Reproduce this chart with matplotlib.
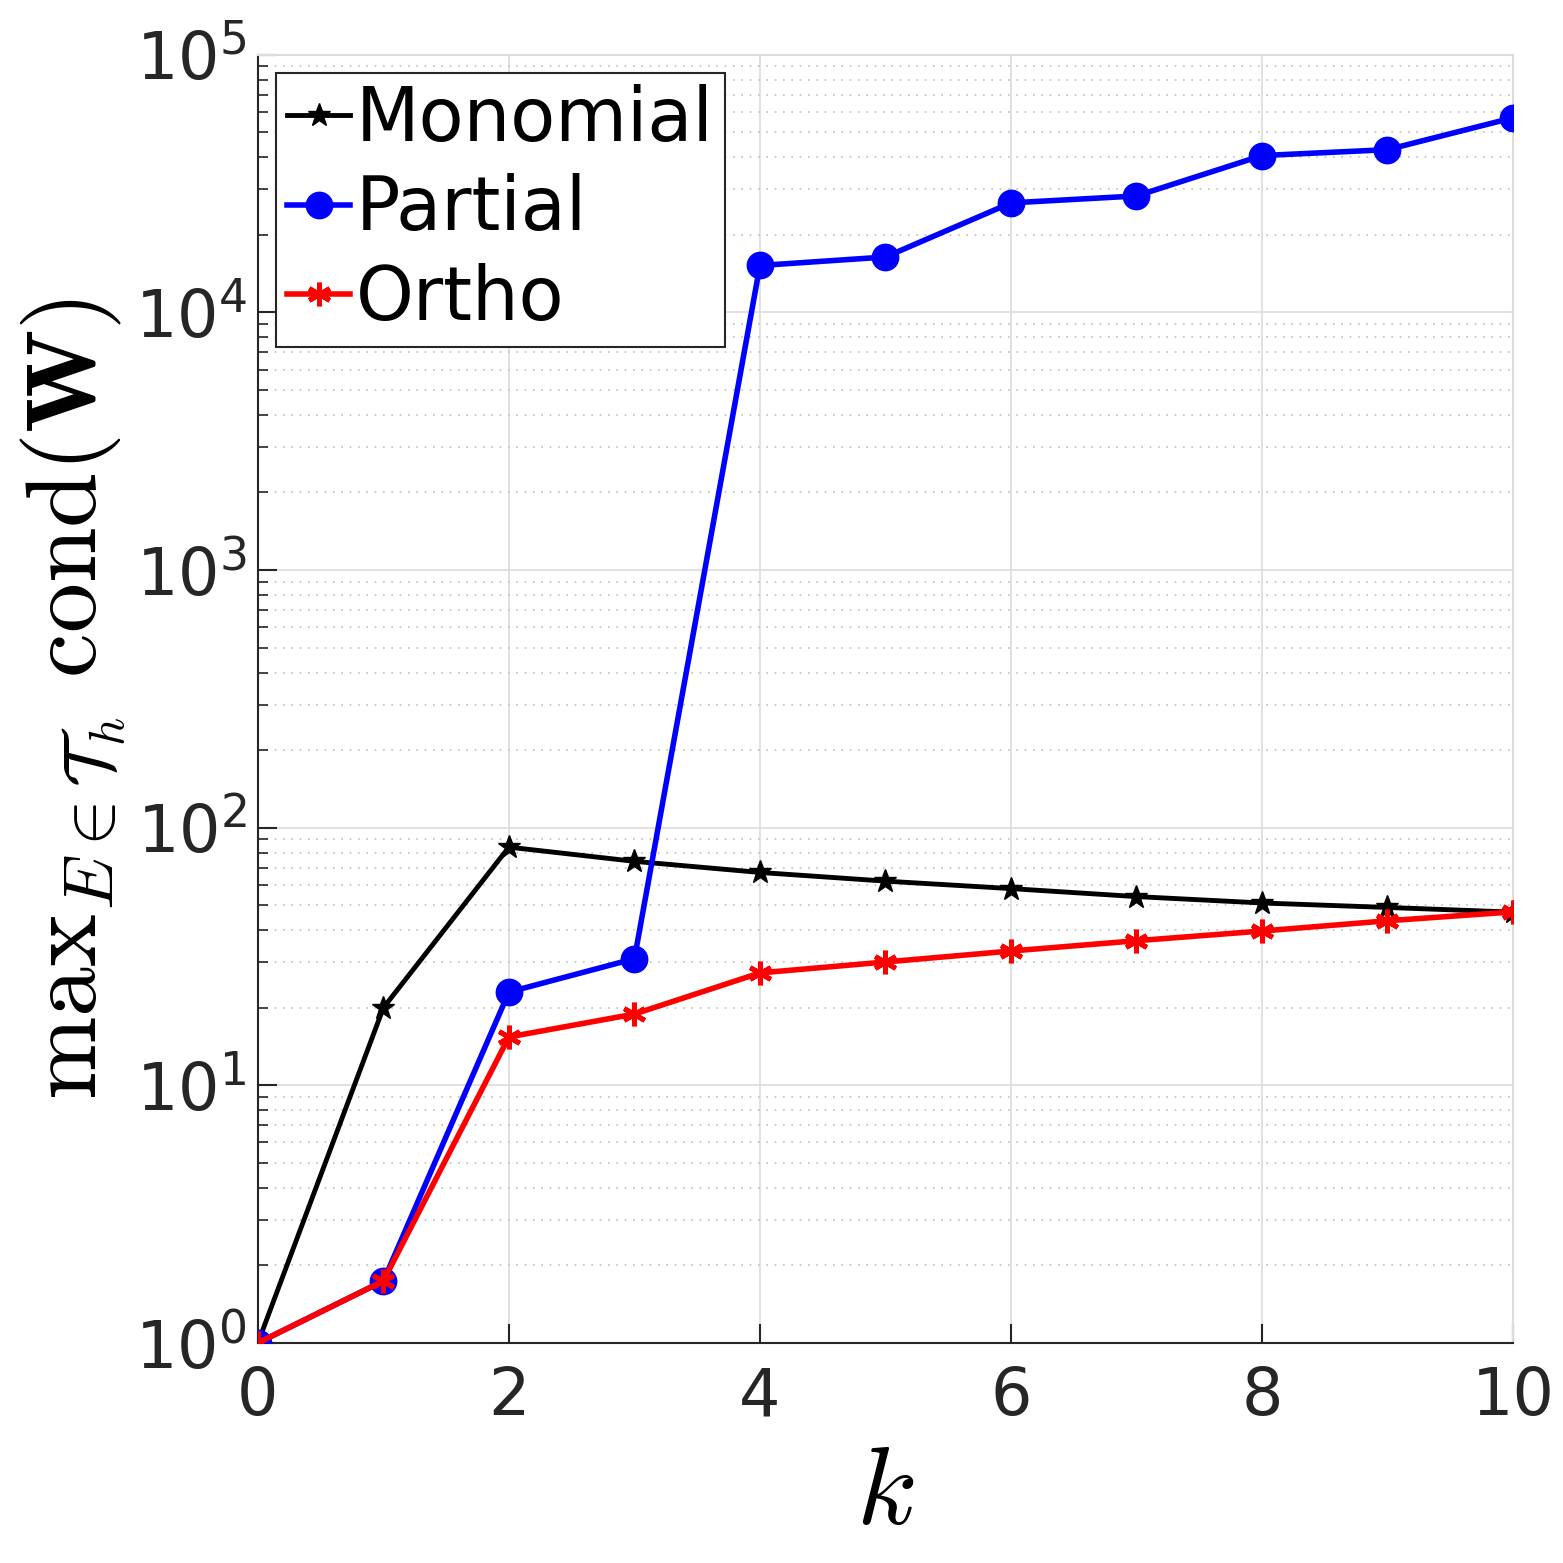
import matplotlib
matplotlib.use("Agg")
import matplotlib.pyplot as plt
from matplotlib.ticker import LogLocator, NullFormatter, FixedLocator

plt.rcParams['mathtext.fontset'] = 'cm'
plt.rcParams['font.family'] = ['DejaVu Sans']

k = [0, 1, 2, 3, 4, 5, 6, 7, 8, 9, 10]
monomial = [1.0, 20.0, 84.0, 74.0, 67.0, 62.0, 58.0, 54.0, 51.0, 49.0, 47.0]
partial = [1.0, 1.74, 23.0, 31.0, 15200.0, 16400.0, 26600.0, 28300.0, 40600.0, 42800.0, 56900.0]
ortho = [1.0, 1.74, 15.4, 18.9, 27.3, 30.1, 33.2, 36.4, 39.7, 43.5, 47.1]
xticks = [0, 2, 4, 6, 8, 10]
yticks = [1e0, 1e1, 1e2, 1e3, 1e4, 1e5]

fig = plt.figure(figsize=(15.63, 15.63), dpi=100)
ax = fig.add_axes([0.165, 0.1408, 0.803, 0.8242])

ax.plot(k, monomial, color='black', lw=3.5, marker='*', ms=17, label='Monomial', zorder=3)
ax.plot(k, partial, color='#0000ff', lw=4, marker='o', ms=19, label='Partial', zorder=4)
ax.plot(k, ortho, color='#ff0000', lw=4, marker=(6, 2, 0), ms=17, mew=3.5, label='Ortho', zorder=5)

ax.set_yscale('log')
ax.set_xlim(0, 10)
ax.set_ylim(1, 1e5)
ax.xaxis.set_major_locator(FixedLocator(xticks))
ax.yaxis.set_major_locator(FixedLocator(yticks))
ax.yaxis.set_minor_locator(LogLocator(base=10, subs=range(2, 10)))
ax.yaxis.set_minor_formatter(NullFormatter())

ax.grid(True, which='major', color='#dcdcdc', lw=1.2, ls='-')
ax.grid(True, which='minor', axis='y', color='#c0c0c0', lw=1.2, ls=(0, (1, 4)))
ax.set_axisbelow(True)

for s in ['top', 'right']:
    ax.spines[s].set_color('#dcdcdc')
    ax.spines[s].set_linewidth(1.5)
for s in ['left', 'bottom']:
    ax.spines[s].set_color('#262626')
    ax.spines[s].set_linewidth(1.5)

ax.tick_params(which='both', direction='in', top=False, right=False, colors='#262626')
ax.tick_params(which='major', length=14, width=1.5, labelsize=47)
ax.tick_params(axis='x', which='major', pad=16)
ax.tick_params(axis='y', which='major', pad=8)
ax.tick_params(which='minor', length=7, width=1.2)
for lab in ax.get_xticklabels() + ax.get_yticklabels():
    lab.set_color('#262626')

ax.set_xlabel(r'$k$', fontsize=80, color='black', labelpad=8)
ax.set_ylabel(r'$\mathrm{max}_{E\in\mathcal{T}_h}\ \mathrm{cond}(\mathbf{W})$', fontsize=72, color='black', labelpad=4)

leg = ax.legend(loc='upper left', fontsize=53, frameon=True, fancybox=False,
                edgecolor='#262626', framealpha=1, borderpad=0.15, labelspacing=0.22,
                handlelength=0.85, handletextpad=0.08, borderaxespad=0.25)
leg.get_frame().set_linewidth(1.5)

fig.savefig('out.png', dpi=100)
